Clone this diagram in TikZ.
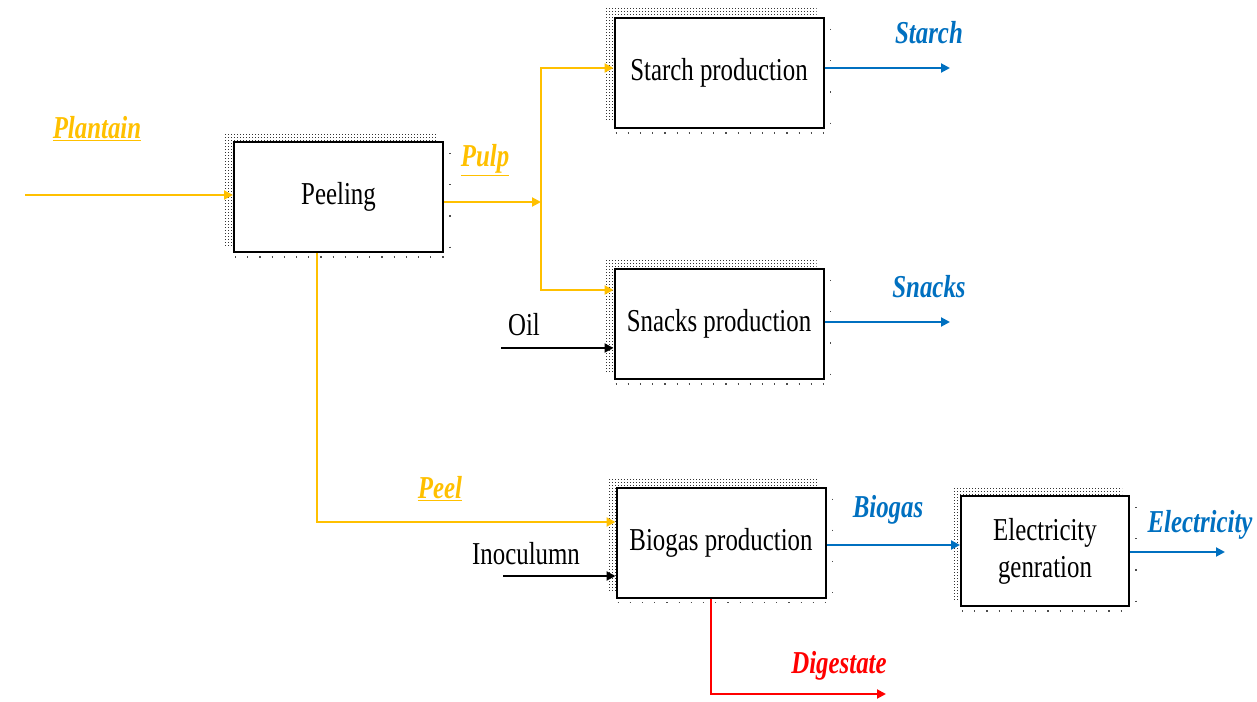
\documentclass[tikz,border=0pt]{standalone}
\usepackage{fontspec}
\setmainfont{Liberation Serif}[FakeStretch=0.78]
\usetikzlibrary{arrows.meta,patterns,backgrounds,positioning}
\definecolor{pyellow}{HTML}{FFC000}
\definecolor{pblue}{HTML}{0070C0}
\definecolor{pred}{HTML}{FF0000}
\pgfdeclarepatternformonly{sparsedots}{\pgfpointorigin}{\pgfqpoint{3bp}{3bp}}{\pgfqpoint{3bp}{3bp}}%
	{\pgfpathrectangle{\pgfpointorigin}{\pgfqpoint{1bp}{1bp}}\pgfusepath{fill}}
\tikzset{%
	procbox/.style    = {draw, line width=2bp, fill=white, rectangle, minimum width=209bp, minimum height=110bp, text centered, align=center, font=\fontsize{32}{37}\selectfont},
	feedflow/.style   = {line width=2bp, -{Triangle[length=9bp,width=9bp]}},
	yellowflow/.style = {feedflow, pyellow},
	blueflow/.style   = {feedflow, pblue},
	redflow/.style    = {feedflow, pred},
	flowlabel/.style  = {font=\fontsize{32}{36}\selectfont\bfseries\itshape},
	plainlabel/.style = {font=\fontsize{32}{36}\selectfont},
	boxshadow/.style  = {pattern=sparsedots, pattern color=black!80},
	edgedots/.style   = {line width=1.2bp, black!70, dash pattern=on 1.2bp off 11bp},
}

\begin{document}
\begin{tikzpicture}[x=1bp,y=-1bp]
	\useasboundingbox (0,0) rectangle (1257,702);
	% process boxes
	\node[procbox] (peeling) at (338.5,197) {Peeling};
	\node[procbox] (starch) at (719,73) {Starch production};
	\node[procbox] (snacks) at (719,324) {Snacks production};
	\node[procbox] (biogas) at (721,542.5) {Biogas production};
	\node[procbox, minimum width=168bp] (electricity) at (1045,551) {Electricity\\genration};
	% dotted shadows
	\begin{scope}[on background layer]
		\foreach \b in {peeling,starch,snacks,biogas,electricity} {
			\fill[boxshadow] ([shift={(-8,-8)}]\b.north west) rectangle ([shift={(-8,-8)}]\b.south east);
			\draw[edgedots] ([shift={(2,4)}]\b.south west) -- ([shift={(0,4)}]\b.south east);
			\draw[edgedots, dash pattern=on 1.2bp off 30bp] ([shift={(6,12)}]\b.north east) -- ([shift={(6,0)}]\b.south east);
		}
	\end{scope}
	% free ends
	\coordinate (plantainin) at (25,195);
	\coordinate (pulpsplit) at (541,202);
	\coordinate (oilin) at (501,348);
	\coordinate (inocin) at (503,576);
	\coordinate (starchout) at (950,68);
	\coordinate (snacksout) at (950,322);
	\coordinate (elecout) at (1225,552);
	\coordinate (digout) at (886,694);
	% plantain and pulp
	\draw[yellowflow] (plantainin) -- (plantainin -| peeling.west);
	\draw[yellowflow] (pulpsplit -| peeling.east) -- (pulpsplit);
	\draw[yellowflow] (pulpsplit) |- ([yshift=5bp]starch.west);
	\draw[yellowflow] (pulpsplit) |- ([yshift=34bp]snacks.west);
	\draw[yellowflow] ([xshift=-21.5bp]peeling.south) |- ([yshift=20.5bp]biogas.west);
	% other feeds
	\draw[feedflow] (oilin) -- (oilin -| snacks.west);
	\draw[feedflow] (inocin) -- (inocin -| biogas.west);
	% products
	\draw[blueflow] (starchout -| starch.east) -- (starchout);
	\draw[blueflow] (snacksout -| snacks.east) -- (snacksout);
	\draw[blueflow] ([yshift=-2.5bp]biogas.east) -- ([yshift=-2.5bp]biogas.east -| electricity.west);
	\draw[blueflow] (elecout -| electricity.east) -- (elecout);
	\draw[redflow] ([xshift=-10bp]biogas.south) |- (digout);
	% labels
	\node[flowlabel, text=pyellow] (plantainlbl) at (97,129) {\underline{Plantain}};
	\node[flowlabel, text=pyellow] (pulplbl) at (485,160) {\underline{Pulp}};
	\node[flowlabel, text=pyellow] (peellbl) at (440,489) {\underline{Peel}};
	\node[plainlabel] (oillbl) at (524,325) {Oil};
	\node[plainlabel] (inoclbl) at (526,554) {Inoculumn};
	\node[flowlabel, text=pblue] (starchlbl) at (929,33) {Starch};
	\node[flowlabel, text=pblue] (snackslbl) at (929,287) {Snacks};
	\node[flowlabel, text=pblue] (biogaslbl) at (888,510) {Biogas};
	\node[flowlabel, text=pblue] (eleclbl) at (1200,525) {Electricity};
	\node[flowlabel, text=pred] (diglbl) at (839,666) {Digestate};
\end{tikzpicture}
\end{document}
